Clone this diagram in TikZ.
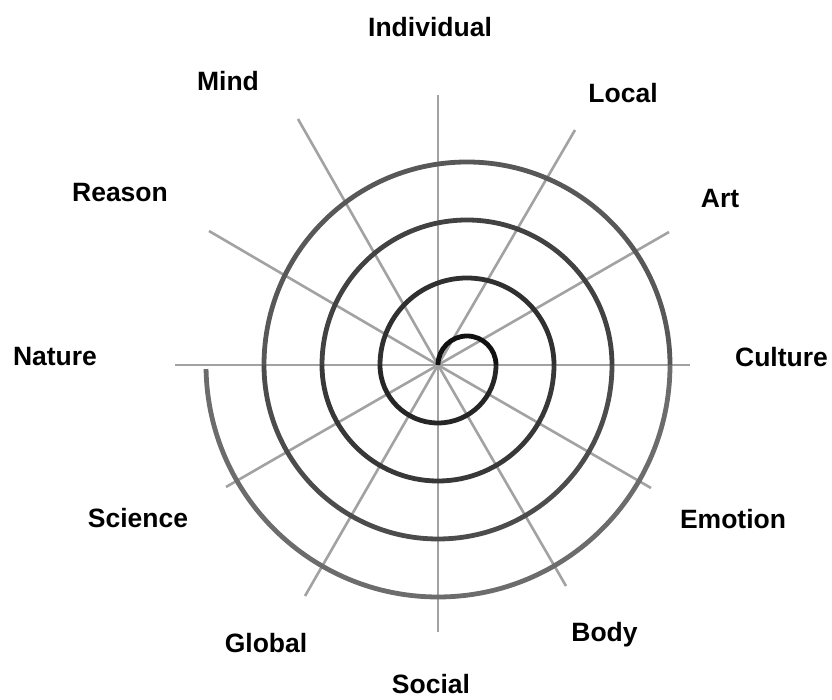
\documentclass[tikz,border=0pt]{standalone}
\usepackage{fontspec}
\setmainfont{Liberation Sans}
\definecolor{spokegray}{HTML}{A2A2A2}
\definecolor{sa}{HTML}{111111}
\definecolor{sb}{HTML}{262626}
\definecolor{sc}{HTML}{303030}
\definecolor{sd}{HTML}{383838}
\definecolor{se}{HTML}{424242}
\definecolor{sf}{HTML}{4C4C4C}
\definecolor{sg}{HTML}{585858}
\definecolor{sh}{HTML}{6C6C6C}
\begin{document}
\begin{tikzpicture}[x=1pt,y=1pt,
  spoke/.style={draw=spokegray,line width=2.6pt},
  spir/.style={line width=4.8pt},
  lab/.style={font=\fontsize{26.5}{30}\selectfont\bfseries,anchor=base,inner sep=0pt}]
\useasboundingbox (0,0) rectangle (832,700);
\coordinate (O) at (438,335);
% spoke ends
\coordinate (e0) at (690,335);
\coordinate (e30) at (669,468);
\coordinate (e60) at (575,570);
\coordinate (e90) at (438,605);
\coordinate (e120) at (298,581);
\coordinate (e150) at (209,469);
\coordinate (e180) at (175,335);
\coordinate (e210) at (226,213);
\coordinate (e240) at (305,104);
\coordinate (e270) at (438,68);
\coordinate (e300) at (566,114);
\coordinate (e330) at (651,212);
\foreach \e in {e0,e30,e60,e90,e120,e150,e180,e210,e240,e270,e300,e330}
  \draw[spoke] (O) -- (\e);
% spiral from alternating semicircles
\draw[spir,sa] (O) arc[start angle=180,end angle=0,radius=29];
\draw[spir,sb] (496,335) arc[start angle=0,end angle=-180,radius=58];
\draw[spir,sc] (380,335) arc[start angle=180,end angle=0,radius=87];
\draw[spir,sd] (554,335) arc[start angle=0,end angle=-180,radius=116];
\draw[spir,se] (322,335) arc[start angle=180,end angle=0,radius=145];
\draw[spir,sf] (612,335) arc[start angle=0,end angle=-180,radius=174];
\draw[spir,sg] (264,335) arc[start angle=180,end angle=0,radius=203];
\draw[spir,sh] (670,335) arc[start angle=0,end angle=-179,radius=232];
% labels
\node[lab] (individual) at (430,663) {Individual};
\node[lab] (local) at (623,597.5) {Local};
\node[lab] (art) at (720,492.5) {Art};
\node[lab] (culture) at (781.5,333) {Culture};
\node[lab] (emotion) at (733,171.5) {Emotion};
\node[lab] (body) at (604.5,58) {Body};
\node[lab] (social) at (431,6) {Social};
\node[lab] (global) at (266,47.5) {Global};
\node[lab] (science) at (138,172.5) {Science};
\node[lab] (nature) at (55,334) {Nature};
\node[lab] (reason) at (120,498.5) {Reason};
\node[lab] (mind) at (228,609) {Mind};
\end{tikzpicture}
\end{document}
